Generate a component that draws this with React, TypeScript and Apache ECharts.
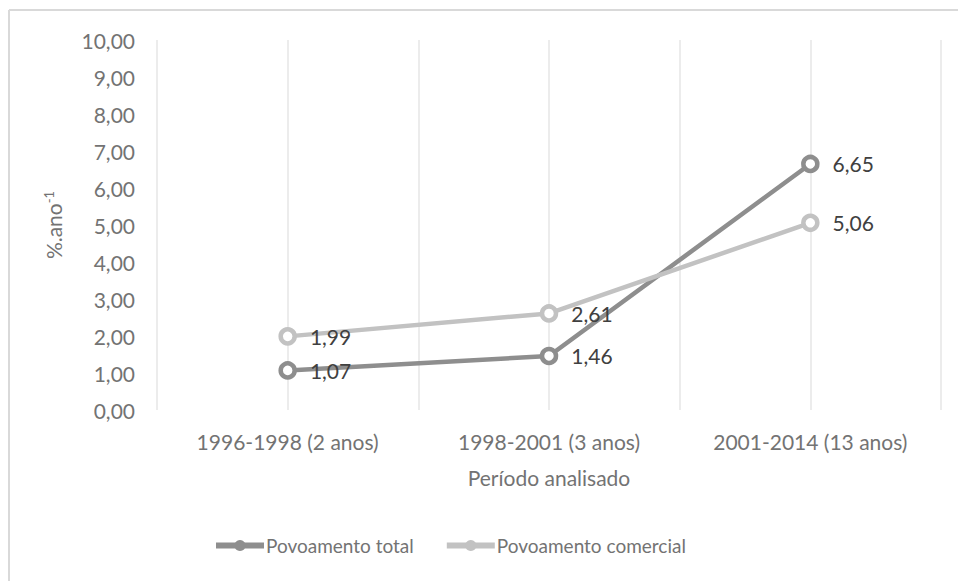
import React, { useEffect, useRef } from "react";
import * as echarts from "echarts";

const categories = ["1996-1998 (2 anos)", "1998-2001 (3 anos)", "2001-2014 (13 anos)"];
const totalValues = [1.07, 1.46, 6.65];
const comercialValues = [1.99, 2.61, 5.06];
const seriesNames = ["Povoamento total", "Povoamento comercial"];
const seriesColors = ["#8e8e8e", "#c2c2c2"];
const halfBands = ["", "", "", "", "", ""];

const FONT = "Lato";
const AXIS_COLOR = "#737373";
const LABEL_COLOR = "#404040";
const fmt = (v: number) => v.toFixed(2).replace(".", ",");

export default function App() {
  const ref = useRef<HTMLDivElement>(null);
  useEffect(() => {
    document.body.style.margin = "0";
    const chart = echarts.init(ref.current!, null, { renderer: "svg" });
    const mkSeries = (name: string, data: number[], color: string) => ({
      name,
      type: "line",
      data,
      xAxisIndex: 0,
      symbol: "circle",
      symbolSize: 14,
      lineStyle: { color, width: 4.5 },
      itemStyle: { color: "#ffffff", borderColor: color, borderWidth: 4.5 },
      label: {
        show: true,
        position: "right",
        distance: 13,
        formatter: (p: any) => fmt(p.value),
        fontFamily: FONT,
        fontSize: 21,
        color: LABEL_COLOR,
      },
    });
    chart.setOption({
      animation: false,
      textStyle: { fontFamily: FONT },
      graphic: [
        { type: "line", shape: { x1: 9, y1: 10, x2: 958, y2: 10 }, style: { stroke: "#d9d9d9", lineWidth: 2 } },
        { type: "line", shape: { x1: 9, y1: 10, x2: 9, y2: 581 }, style: { stroke: "#d9d9d9", lineWidth: 2 } },
      ],
      grid: { left: 157, right: 17, top: 40, bottom: 171 },
      legend: {
        bottom: 21,
        left: 208,
        itemWidth: 48,
        itemHeight: 14,
        itemGap: 30,
        textStyle: { fontFamily: FONT, fontSize: 19, color: AXIS_COLOR, padding: [0, 0, 0, -3] },
        data: seriesNames.map((n, i) => ({
          name: n,
          itemStyle: { color: seriesColors[i], borderColor: seriesColors[i], borderWidth: 0 },
          lineStyle: { color: seriesColors[i], width: 6 },
        })),
      },
      xAxis: [
        {
          type: "category",
          data: categories,
          boundaryGap: true,
          axisLine: { show: false },
          axisTick: { show: false },
          splitLine: { show: false },
          axisLabel: { fontFamily: FONT, fontSize: 21, color: AXIS_COLOR, margin: 21 },
          name: "Período analisado",
          nameLocation: "middle",
          nameGap: 57,
          nameTextStyle: { fontFamily: FONT, fontSize: 21, color: AXIS_COLOR },
        },
        {
          type: "category",
          data: halfBands,
          boundaryGap: true,
          position: "bottom",
          axisLine: { show: false },
          axisTick: { show: false },
          axisLabel: { show: false },
          splitLine: { show: true, lineStyle: { color: "#ececec", width: 2 } },
        },
      ],
      yAxis: {
        type: "value",
        min: 0,
        max: 10,
        interval: 1,
        axisLine: { show: false },
        axisTick: { show: false },
        splitLine: { show: false },
        axisLabel: { fontFamily: FONT, fontSize: 21, color: AXIS_COLOR, margin: 22, formatter: (v: number) => fmt(v) },
        name: "{a|%.ano}{s|-1}",
        nameLocation: "middle",
        nameRotate: 90,
        nameGap: 92,
        nameTextStyle: {
          rich: {
            a: { fontFamily: FONT, fontSize: 21, color: AXIS_COLOR },
            s: { fontFamily: FONT, fontSize: 13, color: AXIS_COLOR, verticalAlign: "top", padding: [0, 0, 10, 0] },
          },
        },
      },
      series: [
        mkSeries(seriesNames[0], totalValues, seriesColors[0]),
        mkSeries(seriesNames[1], comercialValues, seriesColors[1]),
      ],
    });
    return () => chart.dispose();
  }, []);
  return <div ref={ref} style={{ width: 958, height: 581 }} />;
}
